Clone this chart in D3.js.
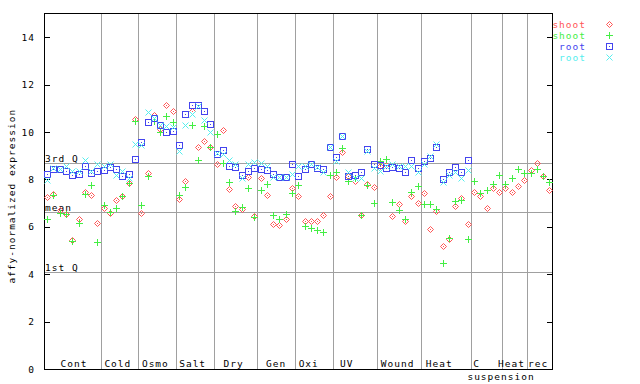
<!DOCTYPE html>
<html><head><meta charset="utf-8">
<script src="https://cdn.jsdelivr.net/npm/d3@7"></script>
<style>
body{margin:0;background:#fff}
text{font-family:"DejaVu Sans Mono",monospace;font-size:9.5px;letter-spacing:1px}
</style>
</head><body>
<svg id="c" width="640" height="384"></svg>
<script>
// ---- data ----
const groups = ["Cont","Cold","Osmo","Salt","Dry","Gen","Oxi","UV","Wound","Heat","C","Heat","rec"];
const groupSizes = [9,6,6,6,7,6,6,7,7,8,5,4,4];
const groupLabelAt = [4.77,11.76,17.74,23.68,30.2,36.97,42.17,48.22,56.33,62.97,68.9,74.48,78.72];
const subLabel = "suspension";
const subLabelAt = 72.8;
const yTicks = [0,2,4,6,8,10,12,14];
const refNames = ["3rd Q","mean","1st Q"];
const refValues = [8.68,6.61,4.1];
const seriesNames = ["shoot","shoot","root","root"];

const shootA = [7.26,7.38,6.69,6.53,5.45,6.33,7.47,7.34,6.16,
  6.79,6.58,7.12,7.29,7.85,10.53,
  6.57,8.26,10.70,10.11,11.13,10.87,
  7.16,7.92,10.87,9.35,9.61,9.35,
  8.64,10.07,7.58,6.86,6.74,8.09,6.44,
  8.04,7.34,6.10,6.06,6.32,7.62,
  7.29,6.23,6.23,6.23,6.48,7.29,
  8.09,9.14,8.13,7.92,6.48,7.79,7.67,
  8.55,8.60,6.44,6.95,6.23,7.29,6.99,
  7.41,5.89,6.65,5.18,5.47,6.86,7.20,6.10,
  7.45,7.29,6.78,7.62,7.45,
  7.62,7.45,7.71,7.96,
  8.38,8.68,8.13,7.54];
const shootB = [6.33,7.34,6.58,6.53,5.41,6.16,7.40,7.76,5.36,
  6.92,6.61,6.79,7.29,7.85,10.46,
  6.91,8.13,10.45,10.0,10.66,10.41,
  7.34,7.67,10.28,8.80,10.24,9.35,
  9.90,8.68,7.88,6.65,6.82,7.62,6.40,
  7.54,7.79,6.48,6.32,6.53,7.41,
  7.75,6.02,5.94,5.85,5.77,8.17,
  8.30,9.34,7.92,8.05,6.48,7.75,6.99,
  8.76,8.85,7.03,6.69,6.32,7.45,7.71,
  6.95,6.95,6.74,4.46,5.51,7.07,7.12,5.47,
  7.92,7.41,7.54,7.79,8.17,
  7.79,8.04,8.43,8.26,
  8.26,8.43,8.13,7.88];
const rootA = [8.21,8.44,8.44,8.34,8.19,8.21,8.57,8.27,8.34,
  8.38,8.54,8.44,8.14,8.21,8.87,
  9.56,10.41,10.58,10.28,9.99,10.03,
  9.44,10.75,11.13,11.13,10.87,10.32,
  9.06,9.23,8.55,8.51,8.17,8.34,8.47,
  8.43,8.38,8.21,8.09,8.09,8.64,
  8.13,8.43,8.64,8.47,8.43,9.38,
  8.93,9.82,8.13,8.17,8.30,9.27,8.64,
  8.59,8.47,8.51,8.47,8.30,8.80,8.47,
  8.76,8.89,9.37,8.00,8.30,8.51,8.30,8.80];
const rootB = [7.96,8.47,8.44,8.57,8.34,8.34,8.80,8.34,8.65,
  8.57,8.64,8.19,8.34,8.04,9.48,
  9.44,10.83,10.58,10.28,10.24,10.20,
  9.18,10.28,10.75,11.08,10.49,9.99,
  9.10,9.06,8.80,8.64,8.04,8.64,8.72,
  8.68,8.57,8.09,8.09,8.09,8.21,
  8.57,8.57,8.64,8.51,8.30,9.38,
  8.76,9.82,8.30,8.04,8.04,9.18,8.47,
  8.34,8.55,8.64,8.55,8.55,8.55,8.30,
  8.64,8.97,9.49,7.88,8.17,8.30,8.04,8.38];

// ---- layout ----
const L = 44, R = 552.5, T = 13.5, B = 369;
const colors = ["#ff5555","#44ee44","#4444ee","#55eeee"];
const shapes = ["diamond","plus","square","cross"];
const total = d3.sum(groupSizes);

const svg = d3.select("#c");
const x = d3.scaleLinear().domain([0,total]).range([L,R]);
const y = d3.scaleLinear().domain([0,15]).range([B,T]);

// reference lines
const grid = svg.append("g").attr("shape-rendering","crispEdges");
refValues.forEach((v,k)=>{
  const yy = Math.round(y(v))+0.5;
  grid.append("line").attr("x1",L).attr("x2",R).attr("y1",yy).attr("y2",yy)
    .attr("stroke","#a0a0a0").attr("stroke-width",1);
  svg.append("text").attr("x",L+1).attr("y",yy-2).attr("fill","#000").text(refNames[k]);
});
// group separators
let cum = 0;
const bounds = [];
groupSizes.forEach((n,k)=>{ cum += n; if (k < groupSizes.length-1) bounds.push(cum); });
bounds.forEach(b=>{
  const xx = Math.round(x(b))+0.5;
  grid.append("line").attr("x1",xx).attr("x2",xx).attr("y1",T).attr("y2",B)
    .attr("stroke","#a0a0a0").attr("stroke-width",1);
});

// axes box
const box = svg.append("g").attr("shape-rendering","crispEdges");
box.append("rect").attr("x",L).attr("y",T).attr("width",R-L).attr("height",B-T)
  .attr("fill","none").attr("stroke","#000").attr("stroke-width",1);

const yAxisL = d3.axisLeft(y).tickValues(yTicks).tickSizeInner(-6).tickSizeOuter(0).tickPadding(9).tickFormat(d3.format("d"));
const gL = svg.append("g").attr("transform",`translate(${L},0)`).call(yAxisL);
gL.select(".domain").remove();
gL.selectAll("line").attr("stroke","#000").attr("shape-rendering","crispEdges");
gL.selectAll("text").attr("font-family",null).attr("font-size",null).attr("fill","#000");
gL.attr("font-family",null).attr("font-size",null);

const yAxisR = d3.axisRight(y).tickValues(yTicks).tickSizeInner(-6).tickSizeOuter(0).tickFormat("");
const gR = svg.append("g").attr("transform",`translate(${R},0)`).call(yAxisR);
gR.select(".domain").remove();
gR.selectAll("line").attr("stroke","#000").attr("shape-rendering","crispEdges");

// group labels
groups.forEach((g,k)=>{
  svg.append("text").attr("x",x(groupLabelAt[k])).attr("y",B-2)
    .attr("text-anchor","middle").attr("fill","#000").text(g);
});
svg.append("text").attr("x",x(subLabelAt)).attr("y",B+10.5)
  .attr("text-anchor","middle").attr("fill","#000").text(subLabel);

// y label
svg.append("text").attr("transform",`translate(15,${(T+B)/2+5}) rotate(-90)`)
  .attr("text-anchor","middle").attr("fill","#000").text("affy-normalized expression");

// markers
function drawMarker(g, shape, cx, cy, col){
  cx = Math.round(cx)+0.5; cy = Math.round(cy)+0.5;
  if (shape==="diamond"){
    g.append("path").attr("d",`M${cx},${cy-3}L${cx+3},${cy}L${cx},${cy+3}L${cx-3},${cy}Z`)
      .attr("fill","none").attr("stroke",col).attr("stroke-width",1);
    g.append("rect").attr("x",cx-0.5).attr("y",cy-0.5).attr("width",1).attr("height",1).attr("fill",col);
  } else if (shape==="plus"){
    g.append("path").attr("d",`M${cx-3.5},${cy}H${cx+3.5}M${cx},${cy-3.5}V${cy+3.5}`)
      .attr("stroke",col).attr("stroke-width",1).attr("shape-rendering","crispEdges");
  } else if (shape==="square"){
    g.append("rect").attr("x",cx-3).attr("y",cy-3).attr("width",6).attr("height",6)
      .attr("fill","none").attr("stroke",col).attr("stroke-width",1).attr("shape-rendering","crispEdges");
    g.append("rect").attr("x",cx-0.5).attr("y",cy-0.5).attr("width",1).attr("height",1).attr("fill",col);
  } else {
    g.append("path").attr("d",`M${cx-3},${cy-3}L${cx+3},${cy+3}M${cx-3},${cy+3}L${cx+3},${cy-3}`)
      .attr("stroke",col).attr("stroke-width",1);
  }
}
const allSeries = [shootA, shootB, rootA, rootB];
const mk = svg.append("g");
allSeries.forEach((s,k)=>{
  s.forEach((v,i)=>{
    if (v==null) return;
    drawMarker(mk, shapes[k], x(i+0.5), y(v), colors[k]);
  });
});

// legend
const legY = [24,35,46,57];
seriesNames.forEach((n,k)=>{
  svg.append("text").attr("x",586).attr("y",legY[k]+3.5).attr("text-anchor","end")
    .attr("fill",colors[k]).text(n);
  drawMarker(svg, shapes[k], 609, legY[k], colors[k]);
});
</script>
</body></html>
